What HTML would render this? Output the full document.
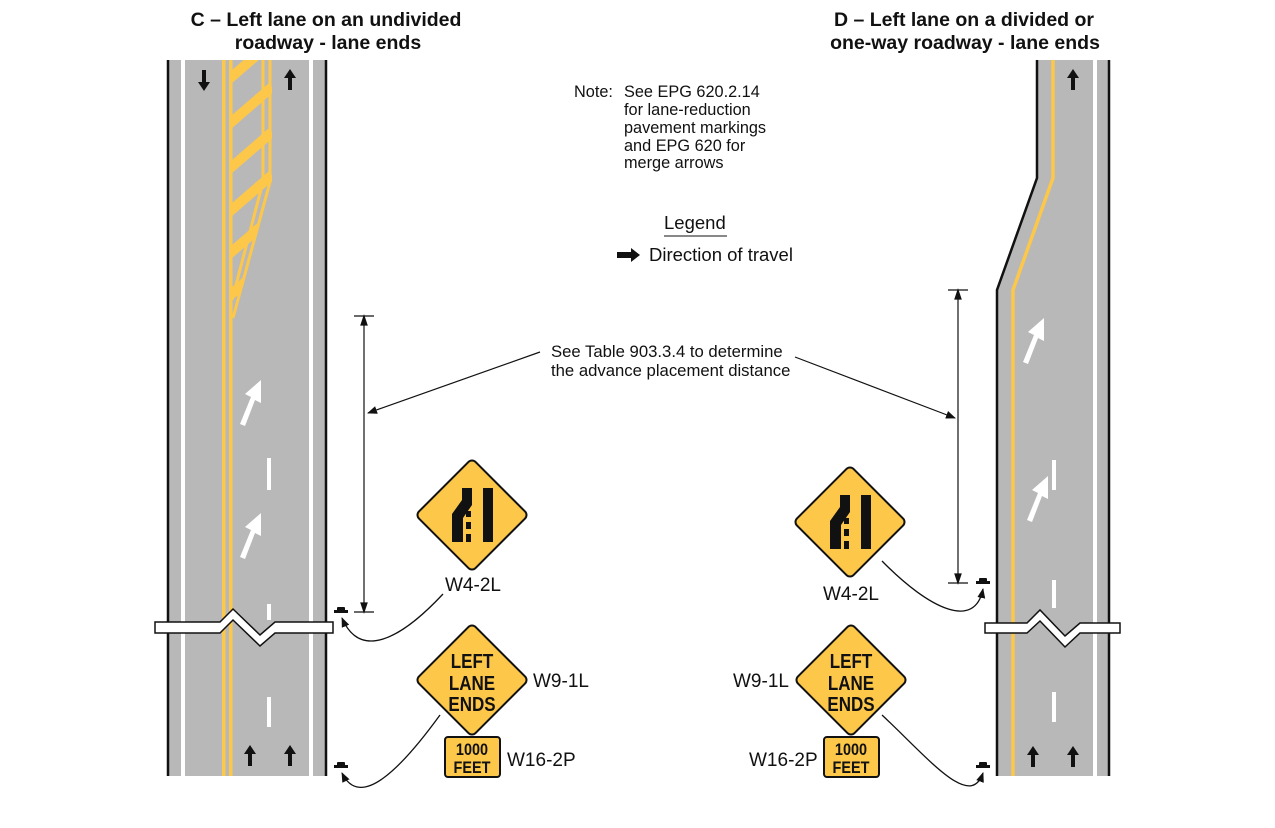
<!DOCTYPE html>
<html><head><meta charset="utf-8"><style>
html,body{margin:0;padding:0;background:#fff;}
svg{display:block;font-family:"Liberation Sans",Arial,sans-serif;}
</style></head><body>
<svg width="1275" height="828" viewBox="0 0 1275 828" xmlns="http://www.w3.org/2000/svg">
<defs>
<marker id="ah" markerWidth="10" markerHeight="8" refX="9" refY="4" orient="auto" markerUnits="userSpaceOnUse"><path d="M0,0 L10,4 L0,8 Z" fill="#111"/></marker>
<g id="barrow"><path d="M-2,10 L-2,-2 L-6,-2 L0,-11 L6,-2 L2,-2 L2,10 Z" fill="#111"/></g>
<g id="warrow"><path d="M-8,24 L-3,26 L7,0 L13,3 L13,-20 L-3,-6 L3,-3 Z" fill="#fff"/></g>
<g id="post"><rect x="-7" y="-2" width="14" height="3" fill="#111"/><rect x="-4" y="-5" width="8" height="4" rx="1" fill="#111"/></g>
</defs>

<!-- Titles -->
<g font-weight="bold" font-size="19.5" fill="#111" text-anchor="middle">
<text x="326" y="26">C – Left lane on an undivided</text>
<text x="328" y="49">roadway - lane ends</text>
<text x="964" y="26">D – Left lane on a divided or</text>
<text x="965" y="49">one-way roadway - lane ends</text>
</g>

<!-- Note -->
<g font-size="16.3" fill="#111">
<text x="574" y="97">Note:</text>
<text x="624" y="97">See EPG 620.2.14</text>
<text x="624" y="115">for lane-reduction</text>
<text x="624" y="133">pavement markings</text>
<text x="624" y="151">and EPG 620 for</text>
<text x="624" y="168">merge arrows</text>
<text x="664" y="229" font-size="18.5">Legend</text>
<text x="649" y="261" font-size="18.5">Direction of travel</text>
<text x="551" y="357" font-size="16.7">See Table 903.3.4 to determine</text>
<text x="551" y="376" font-size="16.7">the advance placement distance</text>
</g>
<line x1="664" y1="236" x2="727" y2="236" stroke="#111" stroke-width="1"/>
<path d="M617,252 L631,252 L631,248 L640,255 L631,262 L631,258 L617,258 Z" fill="#111"/>

<!-- LEFT ROAD -->
<rect x="167" y="60" width="160" height="716" fill="#b8b8b8"/>
<line x1="168" y1="60" x2="168" y2="776" stroke="#111" stroke-width="2.5"/>
<line x1="326" y1="60" x2="326" y2="776" stroke="#111" stroke-width="2.5"/>
<rect x="181" y="60" width="4" height="716" fill="#fff"/>
<rect x="309" y="60" width="4" height="716" fill="#fff"/>
<rect x="222" y="60" width="3.5" height="716" fill="#fdc74a"/>
<rect x="229" y="60" width="3.5" height="716" fill="#fdc74a"/>
<!-- hatched area -->
<clipPath id="hc"><path d="M232,60 L272,60 L272,182 L232,318 Z"/></clipPath>
<polyline points="263,60 263,182 232,300" fill="none" stroke="#fdc74a" stroke-width="3"/>
<polyline points="270,60 270,182 233,318" fill="none" stroke="#fdc74a" stroke-width="3"/>
<g stroke="#fdc74a" stroke-width="10" clip-path="url(#hc)">
<line x1="228" y1="80" x2="272" y2="42"/>
<line x1="228" y1="125" x2="272" y2="87"/>
<line x1="228" y1="170" x2="272" y2="132"/>
<line x1="228" y1="213" x2="272" y2="175"/>
<line x1="228" y1="255" x2="272" y2="217"/>
<line x1="228" y1="297" x2="272" y2="259"/>
</g>
<g fill="#fff">
<rect x="267" y="458" width="4" height="32"/>
<rect x="267" y="604" width="4" height="16"/>
<rect x="267" y="697" width="4" height="30"/>
</g>
<use href="#warrow" x="248" y="400"/>
<use href="#warrow" x="248" y="533"/>
<use href="#barrow" x="204" y="80" transform="rotate(180 204 80)"/>
<use href="#barrow" x="290" y="80"/>
<use href="#barrow" x="250" y="756"/>
<use href="#barrow" x="290" y="756"/>
<path d="M155,622 L220,622 L233,609 L260,635 L275,622 L333,622 L333,633 L275,633 L260,646 L233,620 L220,633 L155,633 Z" fill="#fff" stroke="#111" stroke-width="1.5"/>

<!-- RIGHT ROAD -->
<path d="M1037,60 L1109,60 L1109,776 L997,776 L997,290 L1037,178 Z" fill="#b8b8b8"/>
<polyline points="1037,60 1037,178 997,290 997,776" fill="none" stroke="#111" stroke-width="2.5"/>
<line x1="1109" y1="60" x2="1109" y2="776" stroke="#111" stroke-width="2.5"/>
<rect x="1093" y="60" width="4" height="716" fill="#fff"/>
<polyline points="1053,60 1053,178 1013,290 1013,776" fill="none" stroke="#fdc74a" stroke-width="3.5"/>
<g fill="#fff">
<rect x="1052" y="460" width="4" height="30"/>
<rect x="1052" y="580" width="4" height="28"/>
<rect x="1052" y="692" width="4" height="30"/>
</g>
<use href="#warrow" x="1031" y="338"/>
<use href="#warrow" x="1035" y="496"/>
<use href="#barrow" x="1073" y="80"/>
<use href="#barrow" x="1033" y="757"/>
<use href="#barrow" x="1073" y="757"/>
<path d="M985,623 L1027,623 L1040,610 L1065,636 L1080,623 L1120,623 L1120,633 L1080,633 L1065,647 L1040,621 L1027,633 L985,633 Z" fill="#fff" stroke="#111" stroke-width="1.5"/>

<!-- dimension lines -->
<g stroke="#111" stroke-width="1.2" fill="none">
<line x1="354" y1="316" x2="374" y2="316"/>
<line x1="354" y1="612" x2="374" y2="612"/>
<line x1="364" y1="316" x2="364" y2="612"/>
<line x1="948" y1="290" x2="968" y2="290"/>
<line x1="948" y1="583" x2="968" y2="583"/>
<line x1="958" y1="290" x2="958" y2="583"/>
<line x1="540" y1="352" x2="368" y2="413" marker-end="url(#ah)"/>
<line x1="795" y1="357" x2="955" y2="418" marker-end="url(#ah)"/>
</g>
<g stroke="#111" stroke-width="1.2" fill="#111">
<path d="M364,316 l-3,9 l6,0 Z"/><path d="M364,612 l-3,-9 l6,0 Z"/>
<path d="M958,290 l-3,9 l6,0 Z"/><path d="M958,583 l-3,-9 l6,0 Z"/>
</g>

<!-- posts & leaders -->
<use href="#post" x="341" y="612"/>
<use href="#post" x="341" y="767"/>
<use href="#post" x="983" y="583"/>
<use href="#post" x="983" y="767"/>
<g stroke="#111" stroke-width="1.3" fill="none">
<path d="M443,594 C400,640 360,660 342,618" marker-end="url(#ah)"/>
<path d="M440,715 C400,770 360,810 342,773" marker-end="url(#ah)"/>
<path d="M882,561 C930,610 975,630 983,589" marker-end="url(#ah)"/>
<path d="M882,715 C930,760 970,810 983,773" marker-end="url(#ah)"/>
</g>

<!-- signs -->
<g id="w4">
<rect x="432" y="475" width="80" height="80" rx="5" transform="rotate(45 472 515)" fill="#fdc74a" stroke="#111" stroke-width="2"/>
<path d="M462,488 L472,488 L472,505 L463,518 L463,542 L452,542 L452,514 L462,500 Z" fill="#111"/>
<rect x="466" y="511" width="5" height="6" fill="#111"/><rect x="466" y="522" width="5" height="7" fill="#111"/><rect x="466" y="534" width="5" height="8" fill="#111"/>
<rect x="483" y="488" width="10" height="54" fill="#111"/>
</g>
<use href="#w4" x="378" y="7"/>
<g font-size="19" fill="#111">
<text x="445" y="591">W4-2L</text>
<text x="823" y="600">W4-2L</text>
<text x="533" y="687">W9-1L</text>
<text x="733" y="687">W9-1L</text>
<text x="507" y="766">W16-2P</text>
<text x="749" y="766">W16-2P</text>
</g>
<g id="w9">
<rect x="432" y="640" width="80" height="80" rx="5" transform="rotate(45 472 680)" fill="#fdc74a" stroke="#111" stroke-width="2"/>
<g font-size="20" font-weight="bold" fill="#111" text-anchor="middle" transform="translate(472 0) scale(0.85 1) translate(-472 0)">
<text x="472" y="668">LEFT</text><text x="472" y="690">LANE</text><text x="472" y="711">ENDS</text>
</g>
<rect x="445" y="737" width="55" height="40" rx="3" fill="#fdc74a" stroke="#111" stroke-width="2"/>
<g font-size="17" font-weight="bold" fill="#111" text-anchor="middle" transform="translate(472 0) scale(0.85 1) translate(-472 0)">
<text x="472" y="755">1000</text><text x="472" y="773">FEET</text>
</g>
</g>
<use href="#w9" x="379" y="0"/>
</svg>
</body></html>
